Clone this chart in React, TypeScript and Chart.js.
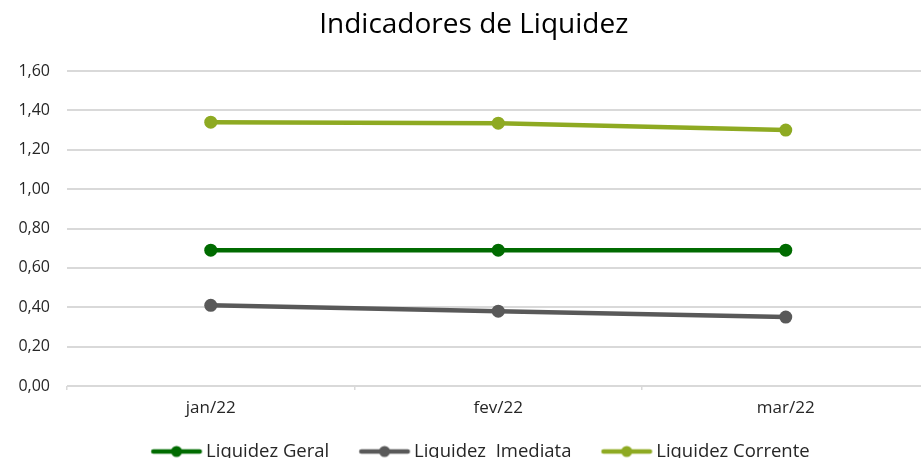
import React, { useEffect, useRef } from "react";
import { Chart, registerables } from "chart.js";

Chart.register(...registerables);

const categories = ["jan/22", "fev/22", "mar/22"];
const liquidezGeral = [0.69, 0.69, 0.69];
const liquidezImediata = [0.41, 0.38, 0.35];
const liquidezCorrente = [1.34, 1.335, 1.3];
const yTicks = [0, 0.2, 0.4, 0.6, 0.8, 1.0, 1.2, 1.4, 1.6];

const FONT = "'Open Sans', sans-serif";
const W = 955;
const H = 477;
const LEGEND_FS = 18.5;

function legendIcon(color: string): HTMLCanvasElement {
  const c = document.createElement("canvas");
  c.width = 72;
  c.height = 14;
  const ctx = c.getContext("2d")!;
  ctx.strokeStyle = color;
  ctx.lineWidth = 4.5;
  ctx.lineCap = "round";
  ctx.beginPath();
  ctx.moveTo(22, 7);
  ctx.lineTo(68.5, 7);
  ctx.stroke();
  ctx.fillStyle = color;
  ctx.beginPath();
  ctx.arc(45.25, 7, 5.5, 0, Math.PI * 2);
  ctx.fill();
  return c;
}

export default function App() {
  const ref = useRef<HTMLCanvasElement>(null);
  useEffect(() => {
    if (!ref.current) return;
    const series = [
      { label: "Liquidez Geral", data: liquidezGeral, color: "#006b00" },
      { label: "Liquidez  Imediata", data: liquidezImediata, color: "#595959" },
      { label: "Liquidez Corrente", data: liquidezCorrente, color: "#8eaa22" },
    ];
    const chart = new Chart(ref.current, {
      type: "line",
      data: {
        labels: categories,
        datasets: series.map((s) => ({
          label: s.label,
          data: s.data,
          borderColor: s.color,
          backgroundColor: s.color,
          borderWidth: 4.5,
          pointRadius: 6.5,
          pointHoverRadius: 6.5,
          pointBackgroundColor: s.color,
          pointBorderWidth: 0,
          tension: 0,
          fill: false,
        })),
      },
      options: {
        animation: false,
        responsive: false,
        layout: { padding: { left: 18, right: 25.5, top: 0, bottom: 6.25 } },
        plugins: {
          title: {
            display: true,
            text: "Indicadores de Liquidez",
            color: "#000000",
            font: { family: FONT, size: 28, weight: "normal" },
            padding: { top: 8.6, bottom: 28.8 },
          },
          legend: {
            position: "bottom",
            labels: {
              usePointStyle: true,
              pointStyleWidth: 59,
              boxHeight: LEGEND_FS,
              padding: 16.5,
              color: "#262626",
              font: { family: FONT, size: LEGEND_FS },
              generateLabels: (ch: any) =>
                ch.data.datasets.map((d: any, i: number) => ({
                  text: d.label,
                  fillStyle: d.borderColor,
                  strokeStyle: d.borderColor,
                  lineWidth: 0,
                  pointStyle: legendIcon(d.borderColor),
                  hidden: false,
                  datasetIndex: i,
                  fontColor: "#262626",
                })),
            },
          },
          tooltip: { enabled: false },
        },
        scales: {
          x: {
            offset: true,
            grid: {
              offset: true,
              drawOnChartArea: false,
              drawTicks: true,
              tickLength: 4,
              color: "#d9d9d9",
              lineWidth: 1.5,
            },
            border: { display: false },
            ticks: {
              color: "#262626",
              font: { family: FONT, size: 17 },
              padding: 8,
              maxRotation: 0,
            },
            afterFit: (s: any) => {
              s.height = 39.75;
            },
          },
          y: {
            min: 0,
            max: 1.6,
            afterBuildTicks: (s: any) => {
              s.ticks = yTicks.map((v) => ({ value: v }));
            },
            grid: { color: "#d9d9d9", lineWidth: 2, drawTicks: false },
            border: { display: false },
            ticks: {
              color: "#262626",
              font: { family: FONT, size: 16 },
              padding: 17,
              callback: (v: any) => Number(v).toFixed(2).replace(".", ","),
            },
            afterFit: (s: any) => {
              s.width = 49;
            },
          },
        },
      },
    });
    return () => chart.destroy();
  }, []);
  return (
    <div
      style={{
        position: "fixed",
        left: 0,
        top: 0,
        width: 921,
        height: 458,
        overflow: "hidden",
        background: "#ffffff",
      }}
    >
      <canvas ref={ref} width={W} height={H} style={{ width: W, height: H, display: "block" }} />
    </div>
  );
}
